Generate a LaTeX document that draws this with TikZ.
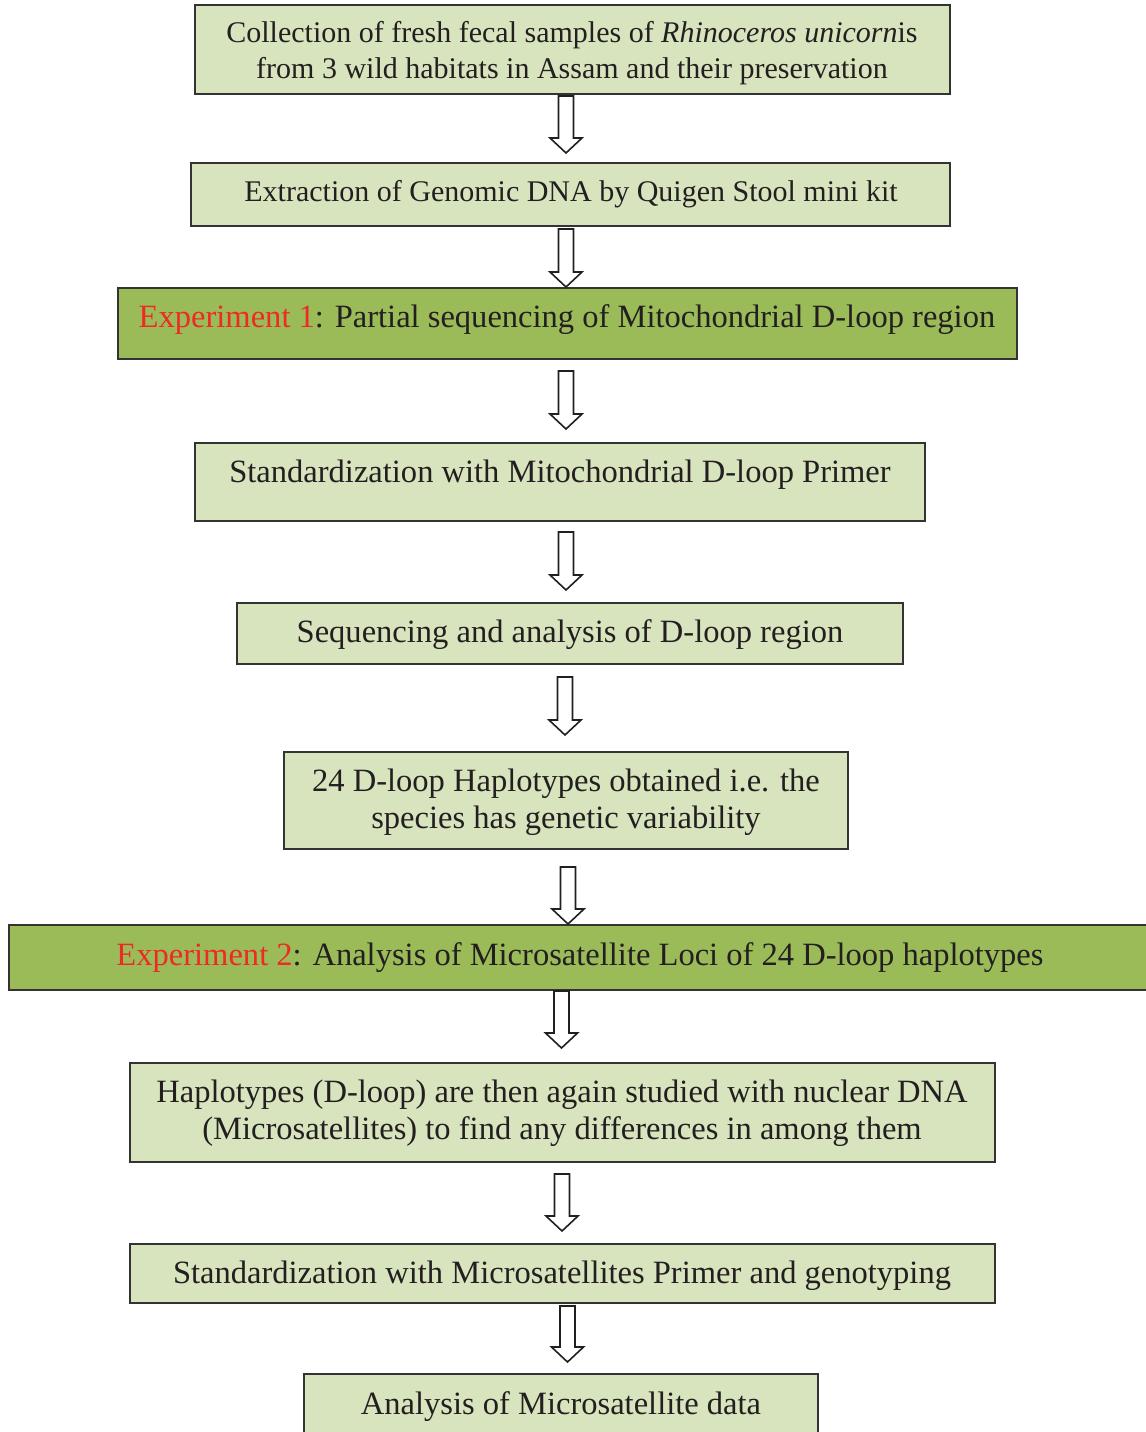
\documentclass[tikz,border=0pt]{standalone}
\usepackage{fontspec}
\setmainfont{Liberation Serif}
\usetikzlibrary{fit,calc}
\definecolor{lightgr}{HTML}{D7E4BD}
\definecolor{darkgr}{HTML}{9BBB59}
\definecolor{exred}{HTML}{EE2A24}
\definecolor{ink}{HTML}{231F20}
\definecolor{edge}{HTML}{333333}
\tikzset{
  stepbox/.style={draw=edge, line width=1.5pt, fill=lightgr, inner sep=0pt},
  keybox/.style={stepbox, fill=darkgr},
  steptext/.style={font=\fontsize{24.4}{27.6}\selectfont, text=ink, align=center, inner sep=0pt},
  smalltext/.style={steptext, font=\fontsize{22.5}{27.5}\selectfont},
  flowarrow/.style={draw=ink, line width=1.2pt, fill=white, line join=miter},
}
% hollow block arrow: x position, source node, target node, gap below source, gap above target
\newcommand\flowarrow[5]{%
  \draw[flowarrow] let \p1=($(#1,0 |- #2.south)+(0,#4)$), \p2=($(#1,0 |- #3.north)-(0,#5)$) in
    (\x1-5.6pt,\y1) -- (\x1-5.6pt,\y2+11.25pt) -- (\x1-12pt,\y2+11.25pt) -- (\x1,\y2)
    -- (\x1+12pt,\y2+11.25pt) -- (\x1+5.6pt,\y2+11.25pt) -- (\x1+5.6pt,\y1) -- cycle;}
\begin{document}
\begin{tikzpicture}[x=0.75pt, y=-0.75pt]
\useasboundingbox (0,0) rectangle (1146,1432);
\clip (0,0) rectangle (1146,1432);

% boxes
\node[stepbox, fit={(195,5) (950,94)}] (b1) {};
\node[stepbox, fit={(191,163) (950,226)}] (b2) {};
\node[keybox, fit={(118,288) (1017,359)}] (b3) {};
\node[stepbox, fit={(195,443) (925,521)}] (b4) {};
\node[stepbox, fit={(237,603) (903,664)}] (b5) {};
\node[stepbox, fit={(284,752) (848,849)}] (b6) {};
\node[keybox, fit={(9,925) (1160,990)}] (b7) {};
\node[stepbox, fit={(130,1063) (995,1162)}] (b8) {};
\node[stepbox, fit={(130,1244) (995,1303)}] (b9) {};
\node[stepbox, fit={(304,1374) (818,1450)}] (b10) {};

% texts
\node[smalltext] (t1) at (572,53) {Collection of fresh fecal samples of \textit{Rhinoceros unicorn}is\\from 3 wild habitats in Assam and their preservation};
\node[smalltext] (t2) at (571,194) {Extraction of Genomic DNA by Quigen Stool mini kit};
\node[steptext] (t3) at (567,320) {\textcolor{exred}{Experiment 1}: Partial sequencing of Mitochondrial D-loop region};
\node[steptext] (t4) at (560,475) {Standardization with Mitochondrial D-loop Primer};
\node[steptext] (t5) at (570,635) {Sequencing and analysis of D-loop region};
\node[steptext] (t6) at (566,802.5) {24 D-loop Haplotypes obtained i.e. the\\species has genetic variability};
\node[steptext] (t7) at (580,958) {\textcolor{exred}{Experiment 2}: Analysis of Microsatellite Loci of 24 D-loop haplotypes};
\node[steptext] (t8) at (562,1113.5) {Haplotypes (D-loop) are then again studied with nuclear DNA\\(Microsatellites) to find any differences in among them};
\node[steptext] (t9) at (562,1276) {Standardization with Microsatellites Primer and genotyping};
\node[steptext] (t10) at (561,1407) {Analysis of Microsatellite data};

% arrows
\flowarrow{566}{b1}{b2}{1}{9}
\flowarrow{566}{b2}{b3}{2}{0}
\flowarrow{566}{b3}{b4}{11}{13}
\flowarrow{566}{b4}{b5}{10}{12}
\flowarrow{565}{b5}{b6}{12}{16}
\flowarrow{568}{b6}{b7}{17}{0}
\flowarrow{561.5}{b7}{b8}{0}{14}
\flowarrow{562}{b8}{b9}{11}{12}
\flowarrow{567.5}{b9}{b10}{2}{11}
\end{tikzpicture}
\end{document}
